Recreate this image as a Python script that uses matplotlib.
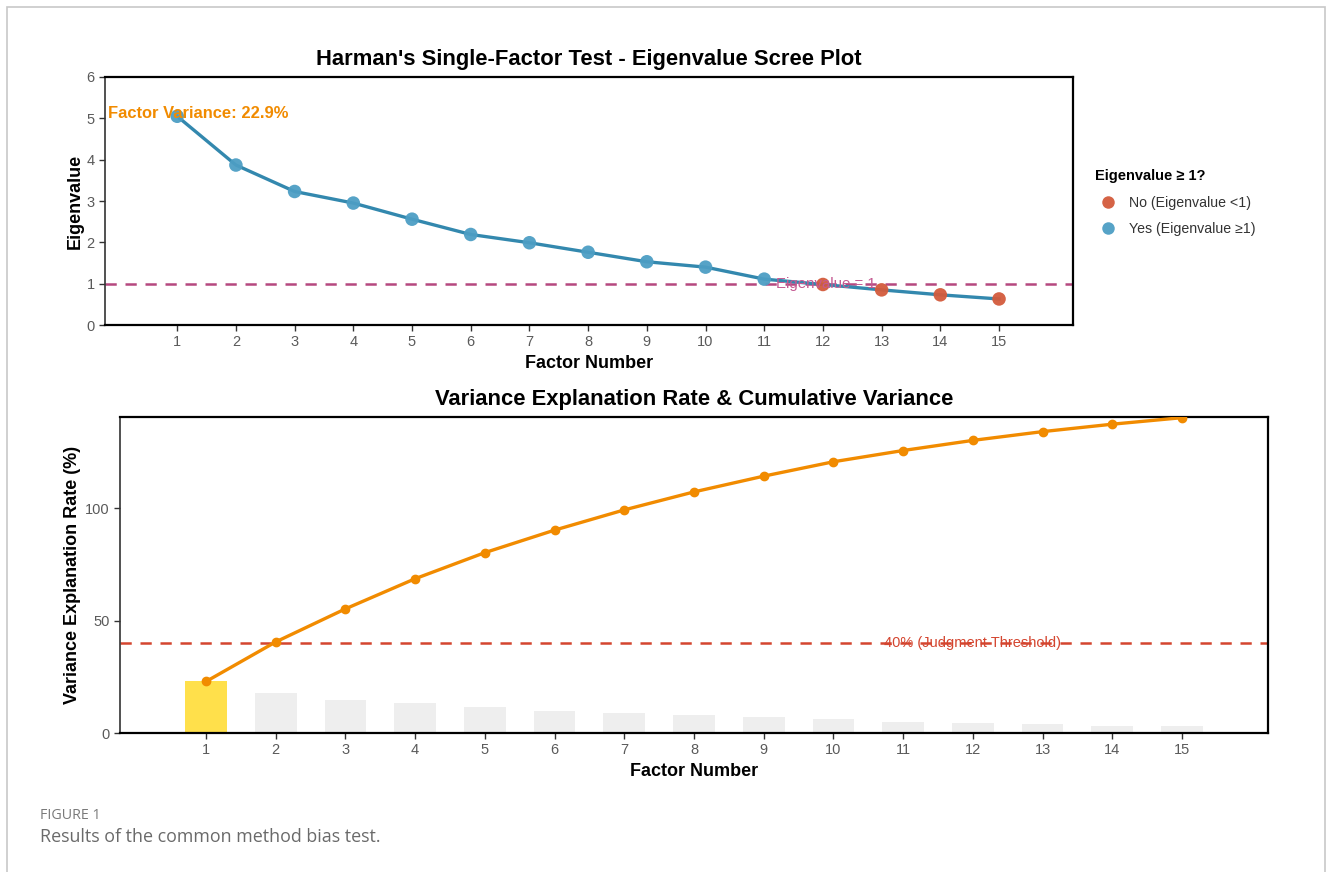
import numpy as np
import matplotlib
matplotlib.use("Agg")
import matplotlib.pyplot as plt
from matplotlib.lines import Line2D
from matplotlib.patches import Rectangle

plt.rcParams['font.family'] = ['Liberation Sans', 'DejaVu Sans']

# ---------------- data ----------------
factors = np.arange(1, 16)
eigenvalues = [5.05, 3.87, 3.23, 2.95, 2.56, 2.19, 1.99, 1.76, 1.53, 1.40,
               1.11, 0.98, 0.85, 0.73, 0.63]
variance_pct = [22.9, 17.6, 14.7, 13.4, 11.6, 10.0, 9.0, 8.0, 7.0, 6.4,
                5.0, 4.5, 3.9, 3.3, 2.9]
cumulative_pct = np.cumsum(variance_pct)
eig_threshold = 1
judgment_threshold = 40
title_top = "Harman's Single-Factor Test - Eigenvalue Scree Plot"
title_bottom = "Variance Explanation Rate & Cumulative Variance"
legend_title = "Eigenvalue \u2265 1?"
legend_labels = ["No (Eigenvalue <1)", "Yes (Eigenvalue \u22651)"]

# ---------------- colours ----------------
c_line = "#3388AE"
c_yes = "#4D9EC4"
c_no = "#D35B3C"
c_eig_dash = "#B5487F"
c_orange = "#F18B00"
c_thresh = "#D4452F"
c_bar_first = "#FFE04B"
c_bar_other = "#EEEEEE"
c_tick = "#5A5A5A"

fig = plt.figure(figsize=(13.3, 8.72), dpi=100)

# frame around figure
fig.patches.append(Rectangle((7 / 1330, -0.05), 1318 / 1330, 1 - 7 / 872 + 0.05,
                             transform=fig.transFigure, fill=False,
                             edgecolor="#C8C8C8", linewidth=1.2))

def style_axes(ax):
    for s in ax.spines.values():
        s.set_color("black")
        s.set_linewidth(1.6)
    ax.spines['left'].set_color("#333333")
    ax.spines['left'].set_linewidth(1.2)
    ax.tick_params(axis='both', colors="#333333", labelcolor=c_tick,
                   labelsize=10.5, length=4, width=1)

# ---------------- top panel ----------------
ax1 = fig.add_axes([105 / 1330, 1 - 325 / 872, 968 / 1330, 248 / 872])
ax1.axhline(eig_threshold, color=c_eig_dash, linestyle=(0, (4.5, 3.5)),
            linewidth=1.8, zorder=1)
ax1.plot(factors, eigenvalues, color=c_line, linewidth=2.4, zorder=2)
ev = np.array(eigenvalues)
yes = ev >= 1
ax1.scatter(factors[yes], ev[yes], s=95, color=c_yes, alpha=0.95, zorder=3,
            edgecolors='none')
ax1.scatter(factors[~yes], ev[~yes], s=95, color=c_no, alpha=0.95, zorder=3,
            edgecolors='none')
ax1.text(12.05, eig_threshold, "Eigenvalue = 1", color="#C45A92", fontsize=10.8,
         ha='center', va='center', zorder=4)
ax1.text(1.35, 5.12, "Factor Variance: %.1f%%" % variance_pct[0], color=c_orange,
         fontsize=11.9, fontweight='bold', ha='center', va='center', zorder=4)
ax1.set_xlim(-0.23, 16.26)
ax1.set_ylim(0, 6)
ax1.set_xticks(factors)
ax1.set_yticks(range(0, 7))
ax1.set_title(title_top, fontsize=15.8, fontweight='bold', pad=8.5)
ax1.set_xlabel("Factor Number", fontsize=13, fontweight='bold', labelpad=4)
ax1.set_ylabel("Eigenvalue", fontsize=13, fontweight='bold', labelpad=2)
style_axes(ax1)

handles = [Line2D([0], [0], marker='o', linestyle='none', markersize=9,
                  markerfacecolor=c, markeredgecolor='none', alpha=0.95)
           for c in (c_no, c_yes)]
leg = ax1.legend(handles, legend_labels, title=legend_title,
                 loc='upper left', bbox_to_anchor=(1.017, 0.650),
                 frameon=False, fontsize=10.2, title_fontsize=10.5,
                 handletextpad=0.57, labelspacing=0.85, borderaxespad=0,
                 handlelength=1.85)
leg.get_title().set_fontweight('bold')
leg._legend_box.align = "left"
for t in leg.get_texts():
    t.set_color("#333333")

# ---------------- bottom panel ----------------
ax2 = fig.add_axes([120 / 1330, 1 - 733 / 872, 1148 / 1330, 316 / 872])
bar_colors = [c_bar_first] + [c_bar_other] * (len(factors) - 1)
ax2.bar(factors, variance_pct, width=0.6, color=bar_colors, zorder=1)
ax2.axhline(judgment_threshold, color=c_thresh, linestyle=(0, (4.5, 3.5)),
            linewidth=1.8, zorder=2)
ax2.plot(factors, cumulative_pct, color=c_orange, linewidth=2.4, marker='o',
         markersize=6, zorder=3, clip_on=True)
ax2.text(12, judgment_threshold, "40% (Judgment Threshold)", color=c_thresh,
         fontsize=10.5, ha='center', va='center', zorder=4)
ax2.set_xlim(-0.234, 16.234)
ax2.set_ylim(0, cumulative_pct[-1] + 0.3)
ax2.set_xticks(factors)
ax2.set_yticks([0, 50, 100])
ax2.set_title(title_bottom, fontsize=15.8, fontweight='bold', pad=8.5)
ax2.set_xlabel("Factor Number", fontsize=13, fontweight='bold', labelpad=4)
ax2.set_ylabel("Variance Explanation Rate (%)", fontsize=13, fontweight='bold',
               labelpad=3)
style_axes(ax2)

# ---------------- caption ----------------
fig.text(40 / 1330, 1 - 815 / 872, "FIGURE 1", fontsize=10.3, color="#7A7A7A",
         family=['Open Sans', 'DejaVu Sans'], fontweight='medium', va='center')
fig.text(40 / 1330, 1 - 837 / 872, "Results of the common method bias test.",
         fontsize=12.9, color="#6A6A6A", family=['Open Sans', 'DejaVu Sans'],
         va='center')

fig.savefig("out.png", dpi=100, facecolor="white")
